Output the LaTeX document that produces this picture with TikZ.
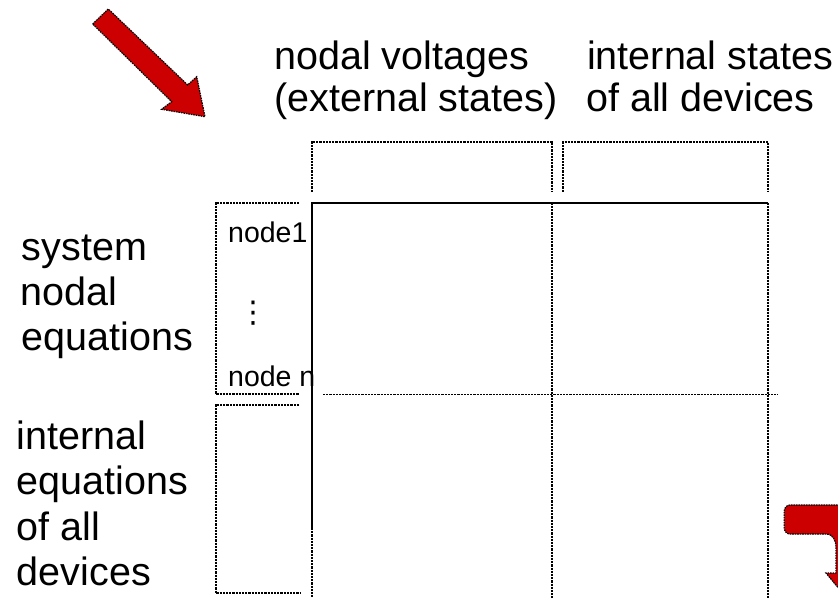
\documentclass[tikz,border=0pt]{standalone}
\usepackage{fontspec}
\setmainfont{Liberation Sans}
\newfontfamily\symfont{DejaVu Sans}
\definecolor{arrowred}{RGB}{204,0,0}
\begin{document}
\begin{tikzpicture}[x=1pt,y=-1pt,
  lbl/.style={anchor=base west, inner sep=0pt, font=\fontsize{39.5}{45}\selectfont},
  small/.style={anchor=base west, inner sep=0pt, font=\fontsize{28.5}{32}\selectfont},
  dotline/.style={line width=1.9pt, dash pattern=on 2.2pt off 1pt},
  solidline/.style={line width=1.6pt},
  redarrow/.style={fill=arrowred, draw=black, line width=1.2pt,
    dash pattern=on 1.6pt off 0.9pt, line join=miter}]
\useasboundingbox (0,0) rectangle (838,598);

% column headings
\node[lbl] (colA1) at (274,69) {nodal voltages};
\node[lbl] (colA2) at (274,111) {(external states)};
\node[lbl] (colB1) at (587,69) {internal states};
\node[lbl] (colB2) at (586,111) {of all devices};

% row headings
\node[lbl] (rowA1) at (21.7,260) {system};
\node[lbl] (rowA2) at (20,305.5) {nodal};
\node[lbl] (rowA3) at (21.7,350.5) {equations};
\node[lbl] (rowB1) at (16.7,449.5) {internal};
\node[lbl] (rowB2) at (16.7,494.5) {equations};
\node[lbl] (rowB3) at (16.7,540) {of all};
\node[lbl] (rowB4) at (16.7,585) {devices};

% node labels of the first block row
\node[small] (nfirst) at (228,242) {node1};
\node[inner sep=0pt, font=\symfont\fontsize{30}{32}\selectfont]
  (nvdots) at (253.3,313) {⋮};
\node[small] (nlast) at (228,386) {node n};

% brackets over the columns
\draw[dotline] (311.7,191.7) -- (311.7,141.7) -- (551.7,141.7) -- (551.7,191.7);
\draw[dotline] (563.3,191.7) -- (563.3,141.7) -- (768.3,141.7) -- (768.3,191.7);

% matrix grid
\draw[dotline] (551.7,202.7) -- (551.7,598);
\draw[dotline] (768.3,202.7) -- (768.3,598);
\draw[dotline] (311.7,528) -- (311.7,598);
\draw[dotline] (323,394.5) -- (778,394.5);
\draw[solidline] (311.7,528) -- (311.7,202.7) -- (768.3,202.7);

% row brackets on the left
\draw[dotline] (299,202.7) -- (215.7,202.7) -- (215.7,394) -- (299,394);
\draw[dotline] (299,405) -- (215.7,405) -- (215.7,593) -- (300,593);

% straight arrow, top left
\draw[redarrow] (92.7,24) -- (108.3,9) -- (187.7,85) -- (196.7,76.7)
  -- (205,116.7) -- (161.7,109.3) -- (171.7,101.7) -- cycle;

% bent arrow, bottom right
\begin{scope}
\clip (0,0) rectangle (838,598);
\draw[redarrow] (880,505) -- (790,505) to[out=180,in=90] (784.3,511)
  -- (784.3,528) to[out=-90,in=180] (790,534) -- (826,534)
  .. controls (833,534) and (836,540) .. (836,548) -- (836,573)
  -- (826,573) -- (850,602) -- (874,573) -- (880,573) -- cycle;
\end{scope}
\end{tikzpicture}
\end{document}
